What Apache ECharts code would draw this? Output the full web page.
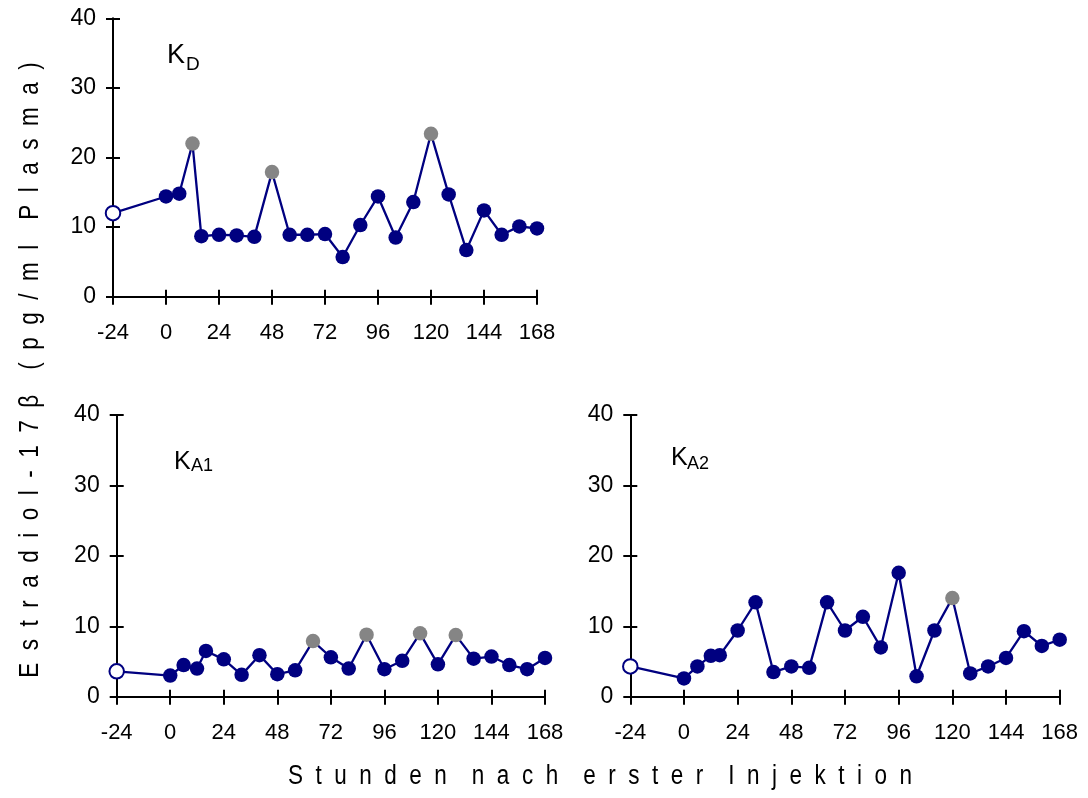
<!DOCTYPE html>
<html>
<head>
<meta charset="utf-8">
<title>Estradiol-17β</title>
<script src="https://cdn.jsdelivr.net/npm/echarts@6/dist/echarts.min.js"></script>
<style>
  html, body { margin: 0; padding: 0; background: #fff; }
  #chart { width: 1088px; height: 798px; }
</style>
</head>
<body>
<div id="chart"></div>
<script>
// Sampling times (hours after first injection), shared by all three animals
const hours = [-24, 0, 6, 12, 16, 24, 32, 40, 48, 56, 64, 72, 80, 88, 96, 104, 112, 120, 128, 136, 144, 152, 160, 168];

// Estradiol-17β concentrations (pg/ml plasma)
const valuesKD  = [12.0, 14.4, 14.8, 22.0, 8.7, 8.9, 8.8, 8.6, 17.9, 8.9, 8.9, 9.0, 5.7, 10.3, 14.4, 8.5, 13.6, 23.4, 14.7, 6.7, 12.4, 8.9, 10.1, 9.8];
const valuesKA1 = [3.6, 3.0, 4.5, 4.0, 6.5, 5.3, 3.1, 5.9, 3.2, 3.75, 7.9, 5.6, 4.0, 8.8, 3.9, 5.1, 9.0, 4.6, 8.75, 5.4, 5.7, 4.5, 3.9, 5.5];
const valuesKA2 = [4.3, 2.6, 4.3, 5.8, 5.9, 9.4, 13.4, 3.5, 4.3, 4.1, 13.4, 9.4, 11.35, 7.0, 17.6, 2.9, 9.4, 14.0, 3.3, 4.3, 5.5, 9.3, 7.2, 8.1];

// Hours whose samples are shown as grey dots
const greyKD  = [12, 48, 120];
const greyKA1 = [64, 88, 112, 128];
const greyKA2 = [120];

// Pre-treatment baseline sample (open circle)
const baselineHour = -24;

// Axis ticks
const xTicks = { min: -24, max: 168, interval: 24 };
const yTicks = { min: 0, max: 40, interval: 10 };

const NAVY = '#000080';
const GREY = '#858585';
const FONT = 'Arial, "Liberation Sans", sans-serif';

const chart = echarts.init(document.getElementById('chart'), null, { renderer: 'canvas' });

const grids = [
  { left: 113, top: 18.3, width: 424, height: 278.4 },
  { left: 116.7, top: 415, width: 428.3, height: 281.7 },
  { left: 630.3, top: 415, width: 429.4, height: 281.7 }
];

function points(values, greys) {
  return hours.map((h, i) => {
    const item = { value: [h, values[i]] };
    if (h === baselineHour) {
      item.itemStyle = { color: '#ffffff', borderColor: NAVY, borderWidth: 2 };
    } else if (greys.includes(h)) {
      item.itemStyle = { color: GREY, borderWidth: 0 };
    }
    return item;
  });
}

const xAxes = [], yAxes = [], series = [];
grids.forEach((g, gi) => {
  // outward ticks with labels
  xAxes.push({
    gridIndex: gi, type: 'value', position: 'bottom',
    min: xTicks.min, max: xTicks.max, interval: xTicks.interval,
    axisLine: { onZero: false, lineStyle: { color: '#000', width: 2 } },
    axisTick: { show: true, length: 8, lineStyle: { color: '#000', width: 2 } },
    axisLabel: { color: '#000', fontSize: 22, fontFamily: FONT, margin: 25 },
    splitLine: { show: false }
  });
  // inward half of the crossing ticks
  xAxes.push({
    gridIndex: gi, type: 'value', position: 'bottom',
    min: xTicks.min, max: xTicks.max, interval: xTicks.interval,
    axisLine: { show: false, onZero: false },
    axisTick: { show: true, inside: true, length: 7, lineStyle: { color: '#000', width: 2 } },
    axisLabel: { show: false },
    splitLine: { show: false }
  });
  yAxes.push({
    gridIndex: gi, type: 'value', position: 'left',
    min: yTicks.min, max: yTicks.max, interval: yTicks.interval,
    axisLine: { show: true, onZero: false, lineStyle: { color: '#000', width: 2 } },
    axisTick: { show: true, length: 7, lineStyle: { color: '#000', width: 2 } },
    axisLabel: { color: '#000', fontSize: 23, fontFamily: FONT, margin: 17 },
    splitLine: { show: false }
  });
  yAxes.push({
    gridIndex: gi, type: 'value', position: 'left',
    min: yTicks.min, max: yTicks.max, interval: yTicks.interval,
    axisLine: { show: false, onZero: false },
    axisTick: { show: true, inside: true, length: 7, lineStyle: { color: '#000', width: 2 } },
    axisLabel: { show: false },
    splitLine: { show: false }
  });
});

const panels = [
  { values: valuesKD, greys: greyKD },
  { values: valuesKA1, greys: greyKA1 },
  { values: valuesKA2, greys: greyKA2 }
];
panels.forEach((p, gi) => {
  series.push({
    type: 'line',
    xAxisIndex: gi * 2, yAxisIndex: gi * 2,
    data: points(p.values, p.greys),
    symbol: 'circle', symbolSize: 14.5,
    lineStyle: { color: NAVY, width: 2.3 },
    itemStyle: { color: NAVY },
    emphasis: { disabled: true },
    animation: false,
    z: 3
  });
});

// Spread letters apart, with wider gaps between words
function spaced(text, sep, wordSep) {
  return text.split(' ').map(w => Array.from(w).join(sep)).join(wordSep);
}

const graphic = [
  {
    type: 'text', x: 31, y: 370, rotation: Math.PI / 2, scaleY: 1.2,
    style: {
      text: spaced('Estradiol-17β (pg/ml Plasma)', '  ', '    '),
      font: '22.5px ' + FONT, fill: '#000', align: 'center', verticalAlign: 'middle'
    }
  },
  {
    type: 'text', x: 600, y: 777, scaleY: 1.2,
    style: {
      text: spaced('Stunden nach erster Injektion', '  ', '    '),
      font: '22.5px ' + FONT, fill: '#000', align: 'center', verticalAlign: 'middle'
    }
  },
  // panel labels
  { type: 'text', x: 167, y: 56, style: { text: 'K', font: '27px ' + FONT, fill: '#000', align: 'left', verticalAlign: 'middle' } },
  { type: 'text', x: 186, y: 65, style: { text: 'D', font: '19px ' + FONT, fill: '#000', align: 'left', verticalAlign: 'middle' } },
  { type: 'text', x: 174, y: 462, style: { text: 'K', font: '25px ' + FONT, fill: '#000', align: 'left', verticalAlign: 'middle' } },
  { type: 'text', x: 191, y: 466, style: { text: 'A1', font: '18px ' + FONT, fill: '#000', align: 'left', verticalAlign: 'middle' } },
  { type: 'text', x: 671, y: 458, style: { text: 'K', font: '25px ' + FONT, fill: '#000', align: 'left', verticalAlign: 'middle' } },
  { type: 'text', x: 687, y: 464, style: { text: 'A2', font: '18px ' + FONT, fill: '#000', align: 'left', verticalAlign: 'middle' } }
];

chart.setOption({
  animation: false,
  backgroundColor: '#fff',
  grid: grids,
  xAxis: xAxes,
  yAxis: yAxes,
  series: series,
  graphic: graphic
});
</script>
</body>
</html>
